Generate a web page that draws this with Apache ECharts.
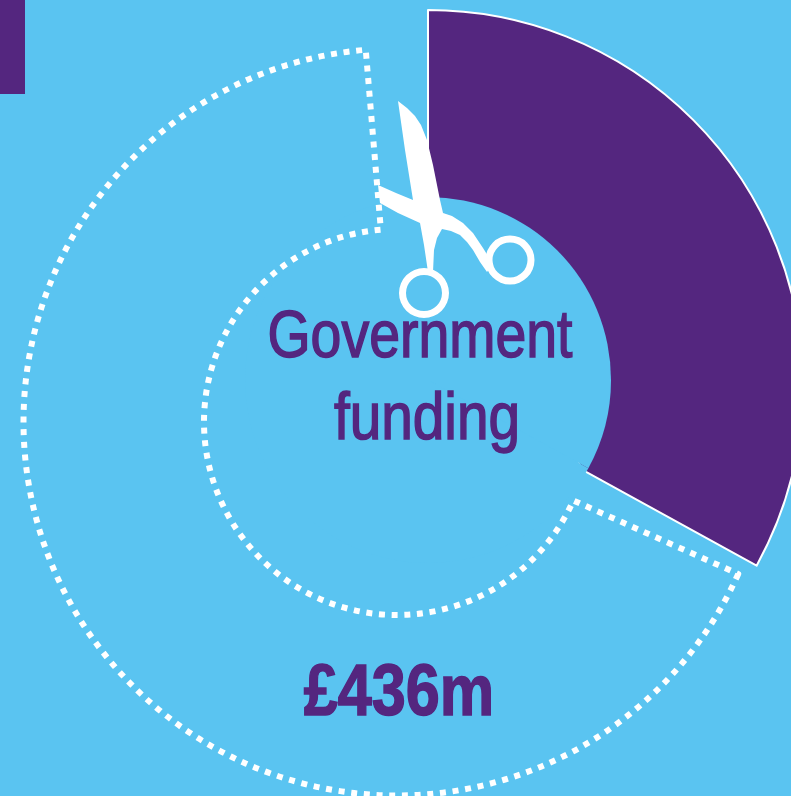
<!DOCTYPE html>
<html>
<head>
<meta charset="utf-8">
<style>html,body{margin:0;padding:0;background:#5ac4f1;overflow:hidden}#c{width:791px;height:796px}</style>
<script src="https://cdn.jsdelivr.net/npm/echarts@6/dist/echarts.min.js"></script>
</head>
<body>
<div id="c"></div>
<script>
const categories = ['Cut', 'Remaining'];
const shareValues = [33, 67];
const titleLines = ['Government', 'funding'];
const amountLabel = '£436m';

const BLUE = '#5ac4f1', PURPLE = '#54267f', WHITE = '#ffffff';
const cut = [
  { name: categories[0], value: shareValues[0] },
  { name: categories[1], value: shareValues[1] }
];
const ring = [
  { name: categories[1], value: shareValues[1] },
  { name: categories[0], value: shareValues[0] }
];
const hidden = { color: 'none', borderWidth: 0 };
const base = { type: 'pie', silent: true, animation: false, label: { show: false }, labelLine: { show: false }, clockwise: true };
const FONT = '"Liberation Sans", sans-serif';
const scissorOutline = [[398,101],[407,108],[415,116],[421,125],[427,140],[433,165],[440,200],[443,213],[452,216],[463,223],[473,233],[483,248],[493,264],[487,272],[480,262],[473,250],[467,242],[460,235],[451,231],[442,229],[437,238],[434,250],[433,272],[428,272],[424,245],[420,223],[398,213],[380,203],[378,185],[396,193],[413,200],[405,150]];

const chart = echarts.init(document.getElementById('c'), null, { renderer: 'canvas' });
chart.setOption({
  backgroundColor: BLUE,
  animation: false,
  series: [
    Object.assign({}, base, {
      z: 2, center: [428, 385], radius: [170, 375], startAngle: 90,
      data: [
        { name: cut[0].name, value: cut[0].value, itemStyle: { color: PURPLE, borderColor: WHITE, borderWidth: 2 } },
        { name: cut[1].name, value: cut[1].value, itemStyle: hidden }
      ]
    }),
    Object.assign({}, base, {
      z: 3, center: [428, 380], radius: [0, 183], startAngle: 90,
      data: [
        { name: cut[0].name, value: cut[0].value, itemStyle: { color: BLUE, borderWidth: 0 } },
        { name: cut[1].name, value: cut[1].value, itemStyle: { color: BLUE, borderWidth: 0 } }
      ]
    }),
    Object.assign({}, base, {
      z: 4, center: [397, 422], radius: [193, 373.5], startAngle: -24,
      data: [
        { name: ring[0].name, value: ring[0].value, itemStyle: { color: 'none', borderColor: WHITE, borderWidth: 6, borderType: [6, 6.7] } },
        { name: ring[1].name, value: ring[1].value, itemStyle: hidden }
      ]
    })
  ],
  graphic: [
    { type: 'rect', z: 10, shape: { x: 0, y: 0, width: 25, height: 94 }, style: { fill: PURPLE } },
    { type: 'text', z: 10, x: 420, y: 339, scaleX: 0.84, style: { text: titleLines[0], fill: PURPLE, stroke: PURPLE, lineWidth: 1.5, font: '66px ' + FONT, textAlign: 'center', textVerticalAlign: 'middle' } },
    { type: 'text', z: 10, x: 427, y: 421, scaleX: 0.86, style: { text: titleLines[1], fill: PURPLE, stroke: PURPLE, lineWidth: 1.5, font: '66px ' + FONT, textAlign: 'center', textVerticalAlign: 'middle' } },
    { type: 'text', z: 10, x: 399, y: 695, scaleX: 0.85, style: { text: amountLabel, fill: PURPLE, stroke: PURPLE, lineWidth: 1.5, font: 'bold 72px ' + FONT, textAlign: 'center', textVerticalAlign: 'middle' } },
    { type: 'polygon', z: 20, shape: { points: scissorOutline }, style: { fill: WHITE } },
    { type: 'ring', z: 20, shape: { cx: 424, cy: 293, r: 25, r0: 18 }, style: { fill: WHITE } },
    { type: 'ring', z: 20, shape: { cx: 510, cy: 260, r: 24.5, r0: 17.5 }, style: { fill: WHITE } }
  ]
});
</script>
</body>
</html>
